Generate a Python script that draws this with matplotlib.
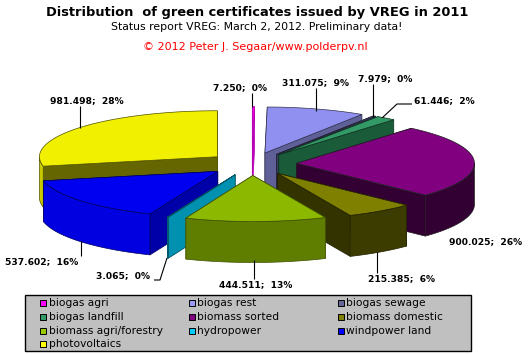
import numpy as np
import matplotlib
matplotlib.use("Agg")
import matplotlib.pyplot as plt
from matplotlib.patches import Rectangle

categories = ["biogas agri", "biogas rest", "biogas sewage", "biogas landfill", "biomass sorted",
              "biomass domestic", "biomass agri/forestry", "hydropower", "windpower land", "photovoltaics"]
values = [7.250, 311.075, 7.979, 61.446, 900.025, 215.385, 444.511, 3.065, 537.602, 981.498]
value_labels = ["7.250;  0%", "311.075;  9%", "7.979;  0%", "61.446;  2%", "900.025;  26%",
                "215.385;  6%", "444.511;  13%", "3.065;  0%", "537.602;  16%", "981.498;  28%"]
legend_colors = ["#FF00FF", "#9999FF", "#666699", "#339966", "#800080",
                 "#808000", "#99CC00", "#00CCFF", "#0000FF", "#FFFF00"]
top_colors = ["#F000E0", "#9090F0", "#66669A", "#339966", "#800080",
              "#808000", "#8CB800", "#0099BB", "#0000F0", "#F0F000"]
radial_colors = ["#C800C0", "#606098", "#3C3C64", "#1A5C3A", "#330033",
                 "#333300", "#607800", "#0090B0", "#0000A8", "#666600"]
outer_colors = ["#C800C0", "#606098", "#3C3C64", "#1A5C3A", "#330033",
                "#3C3C00", "#5F7E00", "#0090B0", "#0000E0", "#C8C800"]
edge_colors = ["#B000B0", "#303050", "#202030", "#103020", "#202020",
               "#202000", "#405000", "#005060", "#000060", "#505000"]

CX, CY, RX, RY, EXPL, DEPTH = 252, 164, 178, 46, 0.25, 41

fig = plt.figure(figsize=(5.31, 3.54), dpi=100, facecolor="white")
ax = fig.add_axes([0, 0, 1, 1])
ax.set_xlim(0, 531)
ax.set_ylim(354, 0)
ax.axis("off")

vals = np.array(values)
edges = np.concatenate([[0], np.cumsum(vals)]) / vals.sum() * 2 * np.pi


def pt(t, r=1.0):
    return np.array([RX * r * np.sin(t), -RY * r * np.cos(t)])


wedges = []
for i in range(len(vals)):
    a, b = edges[i], edges[i + 1]
    apex = np.array([CX, CY]) + pt((a + b) / 2, EXPL)
    ts = np.linspace(a, b, max(int((b - a) * 40), 2))
    arc = np.array([apex + pt(t) for t in ts])
    wedges.append((apex[1], i, apex, arc, ts))

LW = 0.5
down = np.array([0, DEPTH])
# painter's order: far wedges first
for _, i, apex, arc, ts in sorted(wedges, key=lambda w: w[0]):
    z = 1 + apex[1] / 1000
    ec = edge_colors[i]
    for end in sorted([arc[0], arc[-1]], key=lambda e: e[1]):
        q = np.array([apex, end, end + down, apex + down])
        ax.fill(q[:, 0], q[:, 1], fc=radial_colors[i], ec=ec, lw=LW, zorder=z)
    mask = np.cos(ts) < 0.02
    if mask.sum() >= 2:
        f = arc[mask]
        q = np.vstack([f, (f + down)[::-1]])
        ax.fill(q[:, 0], q[:, 1], fc=outer_colors[i], ec=ec, lw=LW, zorder=z + 1e-5)
    q = np.vstack([apex, arc])
    ax.fill(q[:, 0], q[:, 1], fc=top_colors[i], ec=ec, lw=LW, zorder=z + 2e-5)

# labels and leader lines
label_xy = [(240, 88), (315, 83), (385.5, 79), (444.5, 101), (486, 242),
            (401, 279), (255.5, 285), (123.5, 275.5), (42, 262), (87, 101)]
leaders = [[(252, 93), (252, 107)], [(316, 88), (316, 111)], [(373, 84), (373, 117)],
           [(412, 104), (397, 104), (382, 118)], None, [(377, 252), (377, 273)],
           [(254, 260), (254, 279)], [(154, 280), (160, 280), (167, 258)],
           [(81, 241), (81, 256)], [(80, 106), (80, 128)]]
for txt, (x, y), line in zip(value_labels, label_xy, leaders):
    ax.text(x, y, txt, ha="center", va="center", fontsize=6.6, fontweight="bold",
            family="DejaVu Sans", color="black", zorder=5)
    if line is not None:
        l = np.array(line)
        ax.plot(l[:, 0], l[:, 1], color="black", lw=0.8, zorder=4, solid_capstyle="butt")

# titles
ax.text(257, 12.5, "Distribution  of green certificates issued by VREG in 2011", ha="center", va="center",
        fontsize=9.4, fontweight="bold", family="DejaVu Sans", color="black")
ax.text(256.7, 27.5, "Status report VREG: March 2, 2012. Preliminary data!", ha="center", va="center",
        fontsize=7.85, family="DejaVu Sans", color="black")
ax.text(255, 47.5, "\u00a9 2012 Peter J. Segaar/www.polderpv.nl", ha="center", va="center",
        fontsize=8.05, family="DejaVu Sans", color="#FF0000")

# legend
ax.add_patch(Rectangle((25.2, 295.2), 445.5, 56, fc="#C0C0C0", ec="black", lw=1, zorder=6))
sw_x = [40, 188.7, 337.8]
row_y = [302.5, 316.5, 330.5, 344]
for k, (name, c) in enumerate(zip(categories, legend_colors)):
    col, row = k % 3, k // 3
    ax.add_patch(Rectangle((sw_x[col], row_y[row] - 3), 6, 6, fc=c, ec="black", lw=0.7, zorder=7))
    ax.text(sw_x[col] + 8.7, row_y[row], name, ha="left", va="center", fontsize=7.7,
            family="DejaVu Sans", color="black", zorder=7)

fig.savefig("out.png", dpi=100, facecolor="white")
